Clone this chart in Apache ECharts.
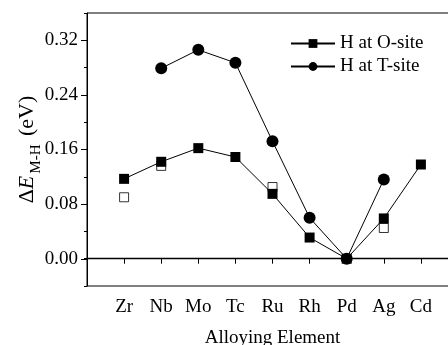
<!DOCTYPE html>
<html>
<head>
<meta charset="utf-8">
<script src="https://cdn.jsdelivr.net/npm/echarts@6/dist/echarts.min.js"></script>
<style>
  html, body { margin: 0; padding: 0; background: #fff; }
  #chart { width: 448px; height: 345px; }
</style>
</head>
<body>
<div id="chart"></div>
<script>
var elements = ['Zr', 'Nb', 'Mo', 'Tc', 'Ru', 'Rh', 'Pd', 'Ag', 'Cd'];
var oSite = [0.117, 0.142, 0.162, 0.149, 0.095, 0.031, 0.000, 0.059, 0.138];   // H at O-site
var tSite = [null, 0.279, 0.306, 0.287, 0.172, 0.060, 0.000, 0.116, null];     // H at T-site
var oSiteOpen = [0.090, 0.136, null, null, 0.105, null, null, 0.045, null];    // open squares
var yTicks = [0, 0.08, 0.16, 0.24, 0.32];

var font = "'Liberation Serif', 'Times New Roman', serif";

// one empty slot on each side of the elements
function pad(arr) { return [null].concat(arr, [null]); }

var chart = echarts.init(document.getElementById('chart'));

var option = {
    backgroundColor: '#fff',
    animation: false,
    textStyle: { fontFamily: font, color: '#000' },
    grid: [
        { left: 87, top: 13, right: -10, bottom: 59, show: true, borderColor: '#000', borderWidth: 1,
          outerBoundsMode: 'none', containLabel: false },
        // second grid only carries the major ticks and labels (0 .. 0.32)
        { left: 87, top: 40, right: -10, bottom: 86, outerBoundsMode: 'none', containLabel: false }
    ],
    legend: {
        orient: 'vertical',
        left: 285,
        top: 29,
        itemWidth: 44,
        itemHeight: 11,
        itemGap: 4,
        data: ['H at O-site', 'H at T-site'],
        textStyle: { fontFamily: font, fontSize: 19, color: '#000' }
    },
    xAxis: [{
        type: 'category',
        gridIndex: 0,
        boundaryGap: false,
        data: pad(elements).map(function (v) { return v || ''; }),
        axisLine: { lineStyle: { color: '#000', width: 1 } },
        axisTick: { show: true, length: 5, interval: 0, lineStyle: { color: '#000' } },
        axisLabel: { interval: 0, margin: 12, fontSize: 19, color: '#000', fontFamily: font },
        name: 'Alloying Element',
        nameLocation: 'middle',
        nameGap: 43,
        nameTextStyle: { fontSize: 19, color: '#000', fontFamily: font },
        splitLine: { show: false }
    }, {
        type: 'value', gridIndex: 1, show: false, min: 0, max: 1
    }],
    yAxis: [{
        type: 'value',
        gridIndex: 0,
        min: -0.04,
        max: 0.36,
        interval: 0.04,
        axisLine: { show: true, lineStyle: { color: '#000', width: 1 } },
        axisTick: { show: true, length: 3, lineStyle: { color: '#000' } },
        axisLabel: { show: false },
        splitLine: { show: false },
        name: '{d|Δ}{e|E}{s|M-H}{d| (eV)}',
        nameLocation: 'middle',
        nameGap: 47,
        nameTextStyle: {
            fontFamily: font,
            color: '#000',
            rich: {
                d: { fontSize: 22, fontFamily: font, lineHeight: 24, verticalAlign: 'top' },
                e: { fontSize: 22, fontFamily: font, fontStyle: 'italic', lineHeight: 24, verticalAlign: 'top' },
                s: { fontSize: 15, fontFamily: font, lineHeight: 16, padding: [13, 3, 0, 2], verticalAlign: 'top' }
            }
        }
    }, {
        type: 'value',
        gridIndex: 1,
        min: yTicks[0],
        max: yTicks[yTicks.length - 1],
        interval: 0.08,
        axisLine: { show: false },
        axisTick: { show: true, length: 6, lineStyle: { color: '#000' } },
        axisLabel: {
            margin: 9, fontSize: 19, color: '#000', fontFamily: font,
            formatter: function (v) { return v.toFixed(2); }
        },
        splitLine: { show: false }
    }],
    series: [{
        name: 'H at O-site',
        type: 'line',
        xAxisIndex: 0,
        yAxisIndex: 0,
        data: pad(oSite),
        symbol: 'rect',
        symbolSize: 10,
        lineStyle: { color: '#000', width: 1 },
        itemStyle: { color: '#000' },
        markLine: {
            silent: true,
            symbol: 'none',
            label: { show: false },
            lineStyle: { color: '#000', width: 1.4, type: 'solid' },
            data: [{ yAxis: 0 }]
        }
    }, {
        name: 'H at T-site',
        type: 'line',
        xAxisIndex: 0,
        yAxisIndex: 0,
        data: pad(tSite),
        symbol: 'circle',
        symbolSize: 12,
        lineStyle: { color: '#000', width: 1 },
        itemStyle: { color: '#000' }
    }, {
        name: 'open',
        type: 'scatter',
        xAxisIndex: 0,
        yAxisIndex: 0,
        data: pad(oSiteOpen),
        symbol: 'rect',
        symbolSize: 9,
        itemStyle: { color: '#fff', borderColor: '#000', borderWidth: 1 }
    }]
};

chart.setOption(option);
</script>
</body>
</html>
